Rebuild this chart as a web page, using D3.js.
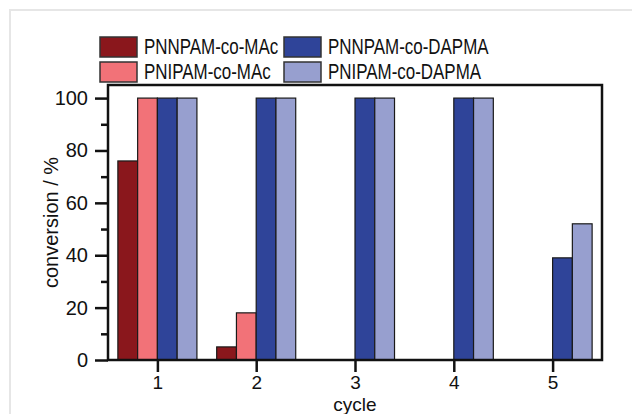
<!DOCTYPE html>
<html>
<head>
<meta charset="utf-8">
<script src="https://cdn.jsdelivr.net/npm/d3@7"></script>
<style>
  body { margin: 0; background: #fff; }
  svg { display: block; font-family: "Liberation Sans", Arial, sans-serif; }
</style>
</head>
<body>
<svg id="chart" width="632" height="414"></svg>
<script>
// data
const cycles = [1, 2, 3, 4, 5];
const seriesNames = ["PNNPAM-co-MAc", "PNIPAM-co-MAc", "PNNPAM-co-DAPMA", "PNIPAM-co-DAPMA"];
const pnnpamMAc   = [76, 5, 0, 0, 0];
const pnipamMAc   = [100, 18, 0, 0, 0];
const pnnpamDAPMA = [100, 100, 100, 100, 39];
const pnipamDAPMA = [100, 100, 100, 100, 52];
const yMajor = [0, 20, 40, 60, 80, 100];
const yMinor = [10, 30, 50, 70, 90];

const colors = ["#8a171c", "#f27278", "#2f4499", "#979fcf"];
const values = [pnnpamMAc, pnipamMAc, pnnpamDAPMA, pnipamDAPMA];

const svg = d3.select("#chart");

// light page frame
svg.append("rect")
  .attr("x", 10).attr("y", 10).attr("width", 640).attr("height", 420)
  .attr("fill", "none").attr("stroke", "#e6e6e6").attr("stroke-width", 2);

const pL = 108, pR = 602, pT = 85, pB = 360;
const x = d3.scaleLinear().domain([0.5, 5.5]).range([pL, pR]);
const y = d3.scaleLinear().domain([0, 105]).range([pB, pT]);
const bw = 0.2;

// bars
values.forEach((vals, s) => {
  svg.append("g").selectAll("rect")
    .data(cycles.map((c, i) => ({c, v: vals[i]})).filter(d => d.v > 0))
    .join("rect")
    .attr("x", d => x(d.c - 0.4 + bw * s))
    .attr("width", d => x(d.c - 0.4 + bw * (s + 1)) - x(d.c - 0.4 + bw * s))
    .attr("y", d => y(d.v))
    .attr("height", d => y(0) - y(d.v))
    .attr("fill", colors[s])
    .attr("stroke", "#1a1a1a")
    .attr("stroke-width", 1.2);
});

// axes
const axStyle = g => {
  g.select(".domain").remove();
  g.selectAll(".tick line").attr("stroke", "#111").attr("stroke-width", 2.5);
  g.selectAll(".tick text").attr("fill", "#111").style("font-size", "20px")
    .style("font-family", "'Liberation Sans', Arial, sans-serif");
};

svg.append("g").attr("transform", `translate(${pL},0)`)
  .call(d3.axisLeft(y).tickValues(yMajor).tickFormat(d3.format("d")).tickSize(13).tickPadding(7))
  .call(axStyle);
svg.append("g").attr("transform", `translate(${pL},0)`)
  .call(d3.axisLeft(y).tickValues(yMinor).tickSize(7).tickFormat(""))
  .call(axStyle);
svg.append("g").attr("transform", `translate(0,${pB})`)
  .call(d3.axisBottom(x).tickValues(cycles).tickFormat(d3.format("d")).tickSize(12).tickPadding(4))
  .call(axStyle)
  .call(g => g.selectAll(".tick text").style("font-size", "19px"));

// plot frame
svg.append("rect")
  .attr("x", pL).attr("y", pT).attr("width", pR - pL).attr("height", pB - pT)
  .attr("fill", "none").attr("stroke", "#111").attr("stroke-width", 2.5);

// axis titles
svg.append("text")
  .attr("x", (pL + pR) / 2).attr("y", 411)
  .attr("text-anchor", "middle").style("font-size", "19px").attr("fill", "#111")
  .text("cycle");
svg.append("text")
  .attr("transform", `translate(58,${(pT + pB) / 2}) rotate(-90)`)
  .attr("text-anchor", "middle").style("font-size", "20px").attr("fill", "#111")
  .text("conversion / %");

// legend, two columns
const legendPos = [[100, 0], [100, 1], [284, 0], [284, 1]];
seriesNames.forEach((name, s) => {
  const [lx, row] = legendPos[s];
  const ly = 37 + row * 25;
  svg.append("rect")
    .attr("x", lx).attr("y", ly).attr("width", 37).attr("height", 20)
    .attr("fill", colors[s]).attr("stroke", "#333").attr("stroke-width", 1.5);
  svg.append("text")
    .attr("transform", `translate(${lx + 44},${ly + 16.5}) scale(0.77,1)`)
    .style("font-size", "22px").attr("fill", "#111")
    .text(name);
});
</script>
</body>
</html>
